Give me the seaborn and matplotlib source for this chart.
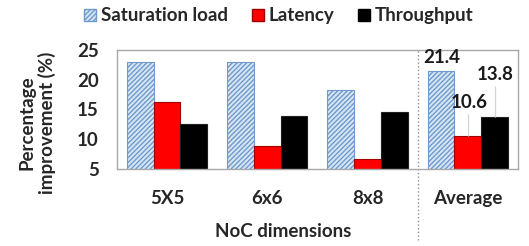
import matplotlib
matplotlib.use("Agg")
import matplotlib.pyplot as plt
import seaborn as sns
import pandas as pd
from matplotlib.patches import Patch

categories = ["5X5", "6x6", "8x8", "Average"]
series = ["Saturation load", "Latency", "Throughput"]
saturation = [22.9, 22.9, 18.3, 21.4]
latency = [16.3, 8.8, 6.6, 10.6]
throughput = [12.6, 13.9, 14.6, 13.8]
yticks = [5, 10, 15, 20, 25]

rows = []
for s, vals in zip(series, [saturation, latency, throughput]):
    for c, v in zip(categories, vals):
        rows.append({"cat": c, "series": s, "value": v})
df = pd.DataFrame(rows)

sns.set_theme(style="white")
plt.rcParams["font.family"] = ["Lato", "DejaVu Sans"]

FS = 13.5

fig = plt.figure(figsize=(5.29, 2.46), dpi=100)
ax = fig.add_axes([0.221, 0.313, 0.758, 0.484])

palette = {"Saturation load": "#d6e6f5", "Latency": "#ff0000", "Throughput": "#000000"}
sns.barplot(data=df, x="cat", y="value", hue="series", order=categories,
            hue_order=series, palette=palette, width=0.8, ax=ax, legend=False,
            saturation=1)

n = len(categories)
for i, p in enumerate(ax.patches[:3 * n]):
    s = i // n
    if s == 0:
        p.set_hatch("///////")
        p.set_edgecolor("#6f9acb")
        p.set_linewidth(0.8)
    elif s == 1:
        p.set_edgecolor("#a00000")
        p.set_linewidth(0.8)
    else:
        p.set_edgecolor("#202020")
        p.set_linewidth(0.8)

ax.set_ylim(5, 25)
ax.set_yticks(yticks)
ax.set_yticklabels([str(t) for t in yticks], fontsize=FS, fontweight="bold")
ax.set_xlim(-0.5, 3.5)
for lbl in ax.get_xticklabels():
    lbl.set_fontsize(FS)
    lbl.set_fontweight("bold")
ax.tick_params(axis="both", length=0)
ax.tick_params(axis="x", pad=15)
ax.tick_params(axis="y", pad=13)
for sp in ax.spines.values():
    sp.set_color("#a8a8a8")
    sp.set_linewidth(1.0)

ax.set_xlabel("NoC dimensions", fontsize=FS, fontweight="bold")
ax.xaxis.set_label_coords(0.414, -0.45)
ax.set_ylabel("Percentage\nimprovement (%)", fontsize=FS, fontweight="bold",
              linespacing=1.15)
ax.yaxis.set_label_coords(-0.152, 0.39)

ax.axvline(2.5, ymin=-0.6, ymax=1.0, color="#909090", linestyle=":",
           linewidth=1.0, clip_on=False)

# Average labels
avg_pos = 3
dodge = 0.8 / 3
xs = [avg_pos - dodge, avg_pos, avg_pos + dodge]
avg_vals = [saturation[3], latency[3], throughput[3]]
label_offsets = [1.4, 4.65, 6.2]
lead = [False, True, True]
for x, v, off, ld in zip(xs, avg_vals, label_offsets, lead):
    ax.text(x + 0.01, v + off, f"{v:.1f}", ha="center", va="baseline",
            fontsize=FS, fontweight="bold", color="#1a1a1a")
    if ld:
        ax.plot([x, x], [v, v + off - 1.0], color="#d4d4d4", lw=0.9,
                solid_capstyle="butt", zorder=1)

handles = [Patch(facecolor=palette["Saturation load"], edgecolor="#6f9acb", hatch="///////"),
           Patch(facecolor="#ff0000", edgecolor="#a00000"),
           Patch(facecolor="#000000", edgecolor="#000000")]
fig.legend(handles, series, loc="center", bbox_to_anchor=(0.527, 0.935), ncol=3,
           frameon=False, prop={"size": FS, "weight": "bold"}, handlelength=0.65,
           handleheight=0.65, handletextpad=0.25, columnspacing=1.25,
           borderpad=0, borderaxespad=0)

fig.savefig("out.png", dpi=100)
